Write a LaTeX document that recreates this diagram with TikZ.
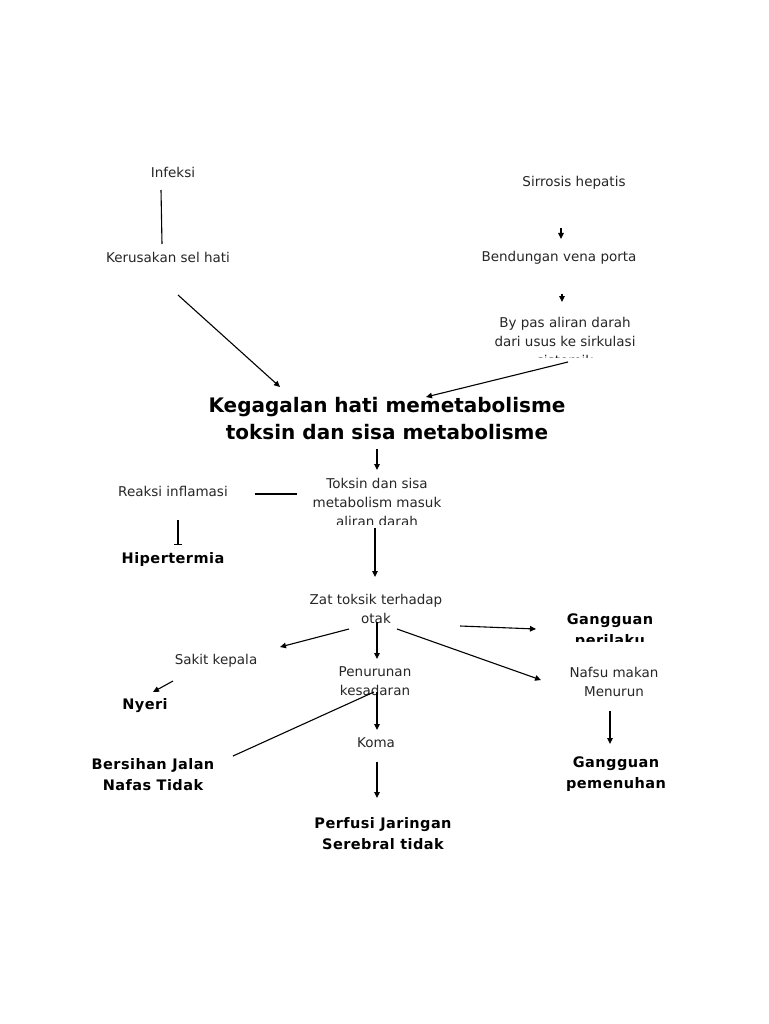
\documentclass[tikz,border=0pt]{standalone}
\usepackage{fontspec}
\setmainfont{DejaVu Sans}
\newfontfamily\spaced[LetterSpace=3,BoldFont={DejaVu Sans Bold}]{DejaVu Sans}
\usetikzlibrary{arrows.meta, positioning, calc}

\begin{document}
\begin{tikzpicture}[
  x=1pt, y=-1pt,
  txt/.style={inner sep=0pt, align=center, text=black!85, font=\fontsize{13.5}{19}\selectfont},
  lbl/.style={inner sep=0pt, align=center, font=\fontsize{14.5}{21}\selectfont\spaced\bfseries},
  title/.style={inner sep=0pt, align=center, font=\fontsize{20}{27}\selectfont\bfseries},
  dep/.style={-{Triangle[length=6pt,width=5.5pt]}, line width=1.1pt},
  link/.style={line width=1.1pt},
  stopper/.style={-{Bar[width=8pt]}, line width=1.1pt},
]
\useasboundingbox (0,0) rectangle (768,1024);

% Causes (top)
\node[txt] (infeksi) at (173,172) {Infeksi};
\node[txt] (kerusakan) at (168,257) {Kerusakan sel hati};
\node[txt] (sirosis) at (574,183) {Sirrosis hepatis};
\node[txt] (bendungan) at (559,258) {Bendungan vena porta};
\begin{scope}
  \clip (470,300) rectangle (670,357);
  \node[txt] (bypass) at (565,341) {By pas aliran darah\\dari usus ke sirkulasi\\sistemik};
\end{scope}

% Central problem
\node[title] (kegagalan) at (387,418.5) {Kegagalan hati memetabolisme\\toksin dan sisa metabolisme};
\begin{scope}
  \clip (300,470) rectangle (460,524);
  \node[txt] (toksin) at (377,502) {Toksin dan sisa\\metabolism masuk\\aliran darah};
\end{scope}
\node[txt] (reaksi) at (173,491) {Reaksi inflamasi};
\node[lbl] (hiper) at (173,559) {Hipertermia};
\node[txt] (zat) at (376,609) {Zat toksik terhadap\\otak};

% Effects
\begin{scope}
  \clip (540,600) rectangle (690,641);
  \node[lbl] (perilaku) at (610,631) {Gangguan\\perilaku};
\end{scope}
\node[txt] (sakit) at (216,661) {Sakit kepala};
\node[txt] (penurunan) at (375,681.5) {Penurunan\\kesadaran};
\node[txt] (nafsu) at (614,681.5) {Nafsu makan\\Menurun};
\node[lbl] (nyeri) at (145,706) {Nyeri};
\node[txt] (koma) at (376,743) {Koma};
\node[lbl] (bersihan) at (153,774.5) {Bersihan Jalan\\Nafas Tidak};
\node[lbl] (pemenuhan) at (616,774.5) {Gangguan\\pemenuhan};
\node[lbl] (perfusi) at (383,833.5) {Perfusi Jaringan\\Serebral tidak};

% Top connectors
\draw[link] ([shift={(-12,18)}]infeksi.center) -- ([shift={(-6,-13)}]kerusakan.center);
\draw[dep] ([shift={(-13,45)}]sirosis.center) -- ([shift={(2,-19)}]bendungan.center);
\draw[dep] ([shift={(3,36)}]bendungan.center) -- ([shift={(-3,-39)}]bypass.center);
\draw[dep] ([shift={(10,38)}]kerusakan.center) -- ([shift={(-107,-31.5)}]kegagalan.center);
\draw[dep] ([shift={(3,21)}]bypass.center) -- ([shift={(39,-21.5)}]kegagalan.center);

% Middle connectors
\draw[dep] ([shift={(-10,30.5)}]kegagalan.center) -- ([shift={(0,-32)}]toksin.center);
\draw[link] ([shift={(82,3)}]reaksi.center) -- ([shift={(-80,-8)}]toksin.center);
\draw[stopper] ([shift={(5,29)}]reaksi.center) -- ([shift={(5,-14)}]hiper.center);
\draw[dep] ([shift={(-2,26)}]toksin.center) -- ([shift={(-1,-32)}]zat.center);

% Lower connectors
\draw[dep] ([shift={(84,17)}]zat.center) -- ([shift={(-74,-2)}]perilaku.center);
\draw[dep] ([shift={(-27,20)}]zat.center) -- ([shift={(64,-14)}]sakit.center);
\draw[dep] ([shift={(21,20)}]zat.center) -- ([shift={(-73,-1.5)}]nafsu.center);
\draw[dep] ([shift={(1,13)}]zat.center) -- ([shift={(2,-22.5)}]penurunan.center);
\draw[dep] ([shift={(-43,20)}]sakit.center) -- ([shift={(8,-14)}]nyeri.center);
\draw[link] ([shift={(80,-18.5)}]bersihan.center) -- ([shift={(-1,10.5)}]penurunan.center);
\draw[dep] ([shift={(2,10.5)}]penurunan.center) -- ([shift={(1,-13)}]koma.center);
\draw[dep] ([shift={(1,19)}]koma.center) -- ([shift={(-6,-35.5)}]perfusi.center);
\draw[dep] ([shift={(-4,29.5)}]nafsu.center) -- ([shift={(-6,-30.5)}]pemenuhan.center);

\end{tikzpicture}
\end{document}
